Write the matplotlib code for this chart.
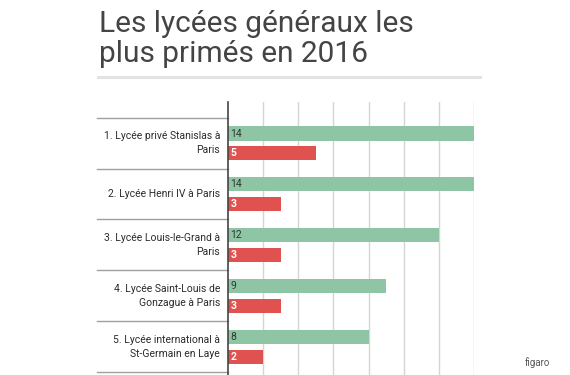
import matplotlib.pyplot as plt
import numpy as np

lycees = ["1. Lycée privé Stanislas à\nParis",
          "2. Lycée Henri IV à Paris",
          "3. Lycée Louis-le-Grand à\nParis",
          "4. Lycée Saint-Louis de\nGonzague à Paris",
          "5. Lycée international à\nSt-Germain en Laye"]
serie_verte = [14, 14, 12, 9, 8]
serie_rouge = [5, 3, 3, 3, 2]

vert = "#8ec5a4"
rouge = "#e0524f"

plt.rcParams['font.family'] = ['Roboto', 'DejaVu Sans']

fig = plt.figure(figsize=(5.7, 3.75), dpi=100)
fig.text(99 / 570, 1 - 10 / 375, "Les lycées généraux les\nplus primés en 2016",
         fontsize=21.5, color="#444444", va="top", ha="left", linespacing=1.1)
fig.add_artist(plt.Line2D([98 / 570, 480 / 570], [1 - 77 / 375] * 2,
                          color="#e3e3e3", lw=2.2))
fig.text(0.965, 0.025, "figaro", fontsize=7, color="#555555", ha="right")

ax = fig.add_axes([228 / 570, 0, 246 / 570, 1 - 102 / 375])
y = np.arange(len(lycees))
h = 0.28
ax.barh(y + 0.31, serie_verte, height=h, color=vert, zorder=2)
ax.barh(y + 0.70, serie_rouge, height=h, color=rouge, zorder=2)

for i in range(len(lycees)):
    ax.text(0.15, i + 0.31, str(serie_verte[i]), fontsize=7.5, color="#333333",
            va="center", ha="left", zorder=3)
    ax.text(0.15, i + 0.70, str(serie_rouge[i]), fontsize=7.5, color="white",
            fontweight="bold", va="center", ha="left", zorder=3)
    ax.text(-0.45, i + 0.5, lycees[i], fontsize=7.5, color="#2b2b2b",
            va="center", ha="right", linespacing=1.5)

for s in range(len(lycees) + 1):
    ax.plot([-7.45, 0], [s, s], color="#a0a0a0", lw=1, clip_on=False)

ax.set_xlim(0, 14)
ax.set_ylim(5.06, -0.31)
ax.set_xticks(np.arange(2, 15, 2))
ax.grid(axis="x", color="#d5d5d5", lw=1, zorder=0)
ax.set_yticks([])
ax.tick_params(axis="x", length=0, labelbottom=False)
for sp in ["top", "right", "bottom"]:
    ax.spines[sp].set_visible(False)
ax.spines["left"].set_color("#444444")
ax.spines["left"].set_linewidth(1.2)
ax.set_facecolor("none")

fig.savefig("out.png", dpi=100)
